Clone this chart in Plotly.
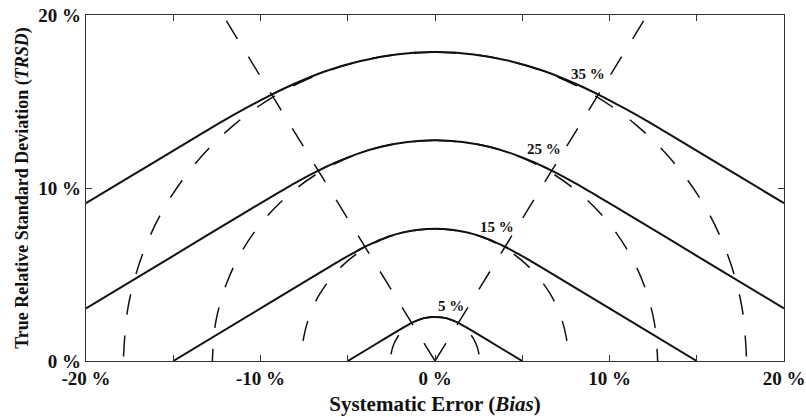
import plotly.graph_objects as go

FONT = "Liberation Serif, Times New Roman, serif"

# ---- data ----
# Solid curves: total error limits (TRSD vs bias)
te_labels = ["35 %", "25 %", "15 %", "5 %"]

bias_35 = [-20, -17.5, -15.11, -13.23, -12.14, -10.92, -9.56, -8.02, -6.28, -4.33, -2.22, 0,
           2.22, 4.33, 6.28, 8.02, 9.56, 10.92, 12.14, 13.23, 15.11, 17.5, 20]
trsd_35 = [9.12, 10.64, 12.09, 13.23, 13.88, 14.57, 15.30, 16.04, 16.75, 17.33, 17.72, 17.86,
           17.72, 17.33, 16.75, 16.04, 15.30, 14.57, 13.88, 13.23, 12.09, 10.64, 9.12]

bias_25 = [-20, -15, -10.80, -9.45, -8.67, -7.80, -6.83, -5.73, -4.49, -3.10, -1.58, 0,
           1.58, 3.10, 4.49, 5.73, 6.83, 7.80, 8.67, 9.45, 10.80, 15, 20]
trsd_25 = [3.04, 6.08, 8.64, 9.45, 9.91, 10.41, 10.93, 11.46, 11.96, 12.38, 12.66, 12.76,
           12.66, 12.38, 11.96, 11.46, 10.93, 10.41, 9.91, 9.45, 8.64, 6.08, 3.04]

bias_15 = [-15, -10, -6.48, -5.67, -5.20, -4.68, -4.10, -3.44, -2.69, -1.86, -0.95, 0,
           0.95, 1.86, 2.69, 3.44, 4.10, 4.68, 5.20, 5.67, 6.48, 10, 15]
trsd_15 = [0, 3.04, 5.18, 5.67, 5.95, 6.24, 6.56, 6.87, 7.18, 7.43, 7.59, 7.65,
           7.59, 7.43, 7.18, 6.87, 6.56, 6.24, 5.95, 5.67, 5.18, 3.04, 0]

bias_5 = [-5, -3.5, -2.16, -1.89, -1.73, -1.56, -1.37, -1.15, -0.90, -0.62, -0.32, 0,
          0.32, 0.62, 0.90, 1.15, 1.37, 1.56, 1.73, 1.89, 2.16, 3.5, 5]
trsd_5 = [0, 0.91, 1.73, 1.89, 1.98, 2.08, 2.19, 2.29, 2.39, 2.48, 2.53, 2.55,
          2.53, 2.48, 2.39, 2.29, 2.19, 2.08, 1.98, 1.89, 1.73, 0.91, 0]

# Dashed curves (quarter arcs, from top down to the axis)
dash_35_x = [0, 3.10, 6.11, 8.93, 11.48, 13.68, 15.47, 16.78, 17.59, 17.86]
dash_35_y = [17.86, 17.59, 16.78, 15.47, 13.68, 11.48, 8.93, 6.11, 3.10, 0]
dash_25_x = [0, 2.22, 4.36, 6.38, 8.20, 9.77, 11.05, 11.99, 12.57, 12.76]
dash_25_y = [12.76, 12.57, 11.99, 11.05, 9.77, 8.20, 6.38, 4.36, 2.22, 0]
dash_15_x = [0, 1.33, 2.62, 3.83, 4.92, 5.86, 6.63, 7.19, 7.53, 7.65]
dash_15_y = [7.65, 7.53, 7.19, 6.63, 5.86, 4.92, 3.83, 2.62, 1.33, 0]
dash_5_x = [0, 0.44, 0.87, 1.28, 1.64, 1.95, 2.21, 2.40, 2.51, 2.55]
dash_5_y = [2.55, 2.51, 2.40, 2.21, 1.95, 1.64, 1.28, 0.87, 0.44, 0]

# Straight dashed lines from the origin
ray_x = [0, 12.16]
ray_y = [0, 20]

# Curve labels positions
label_x = [8.77, 6.25, 3.58, 0.92]
label_y = [16.59, 12.25, 7.75, 3.16]

# Ticks
x_tickvals = [-20, -15, -10, -5, 0, 5, 10, 15, 20]
x_ticktext = ["-20 %", "", "-10 %", "", "0 %", "", "10 %", "", "20 %"]
y_tickvals = [0, 10, 20]
y_ticktext = ["0 %", "10 %", "20 %"]

# ---- figure ----
fig = go.Figure()

dash_style = dict(color="#111111", width=1.5, dash="21px,21px", shape="spline")
for xs, ys in [(dash_35_x, dash_35_y), (dash_25_x, dash_25_y),
               (dash_15_x, dash_15_y), (dash_5_x, dash_5_y)]:
    fig.add_trace(go.Scatter(x=[-v for v in xs], y=ys, mode="lines", line=dash_style,
                             hoverinfo="skip", showlegend=False))
    fig.add_trace(go.Scatter(x=xs, y=ys, mode="lines", line=dash_style,
                             hoverinfo="skip", showlegend=False))

ray_style = dict(color="#111111", width=1.5, dash="21px,21px")
fig.add_trace(go.Scatter(x=[-v for v in ray_x], y=ray_y, mode="lines", line=ray_style,
                         hoverinfo="skip", showlegend=False))
fig.add_trace(go.Scatter(x=ray_x, y=ray_y, mode="lines", line=ray_style,
                         hoverinfo="skip", showlegend=False))

solid_style = dict(color="#111111", width=2, shape="spline", smoothing=0.8)
for xs, ys in [(bias_35, trsd_35), (bias_25, trsd_25), (bias_15, trsd_15), (bias_5, trsd_5)]:
    fig.add_trace(go.Scatter(x=xs, y=ys, mode="lines", line=solid_style,
                             hoverinfo="skip", showlegend=False))

for lx, ly, txt in zip(label_x, label_y, te_labels):
    fig.add_annotation(x=lx, y=ly, text=txt, showarrow=False,
                       font=dict(family=FONT, size=15, color="#111111", weight="bold"),
                       xanchor="center", yanchor="middle")

axis_common = dict(
    showgrid=False, zeroline=False, showline=True, linecolor="#333333", linewidth=1.2,
    mirror="ticks", ticks="inside", ticklen=6, tickwidth=1, tickcolor="#333333",
    tickfont=dict(family=FONT, size=19, color="#111111", weight="bold"),
)

fig.update_xaxes(
    range=[-20, 20], tickmode="array", tickvals=x_tickvals, ticktext=x_ticktext,
    title=dict(text="Systematic Error (<i>Bias</i>)", standoff=8,
               font=dict(family=FONT, size=21, color="#111111", weight="bold")),
    **axis_common,
)
fig.update_yaxes(
    range=[0, 20], tickmode="array", tickvals=y_tickvals, ticktext=y_ticktext,
    title=dict(text="True Relative Standard Deviation (<i>TRSD</i>)", standoff=5,
               font=dict(family=FONT, size=18, color="#111111", weight="bold")),
    **axis_common,
)

fig.update_layout(
    width=806, height=417,
    margin=dict(l=86, r=22, t=15, b=56, autoexpand=False),
    paper_bgcolor="white", plot_bgcolor="white",
    showlegend=False,
)

fig.write_html("out.html", config={"displayModeBar": False},
               post_script="document.body.style.margin='0';document.body.style.overflow='hidden';")
